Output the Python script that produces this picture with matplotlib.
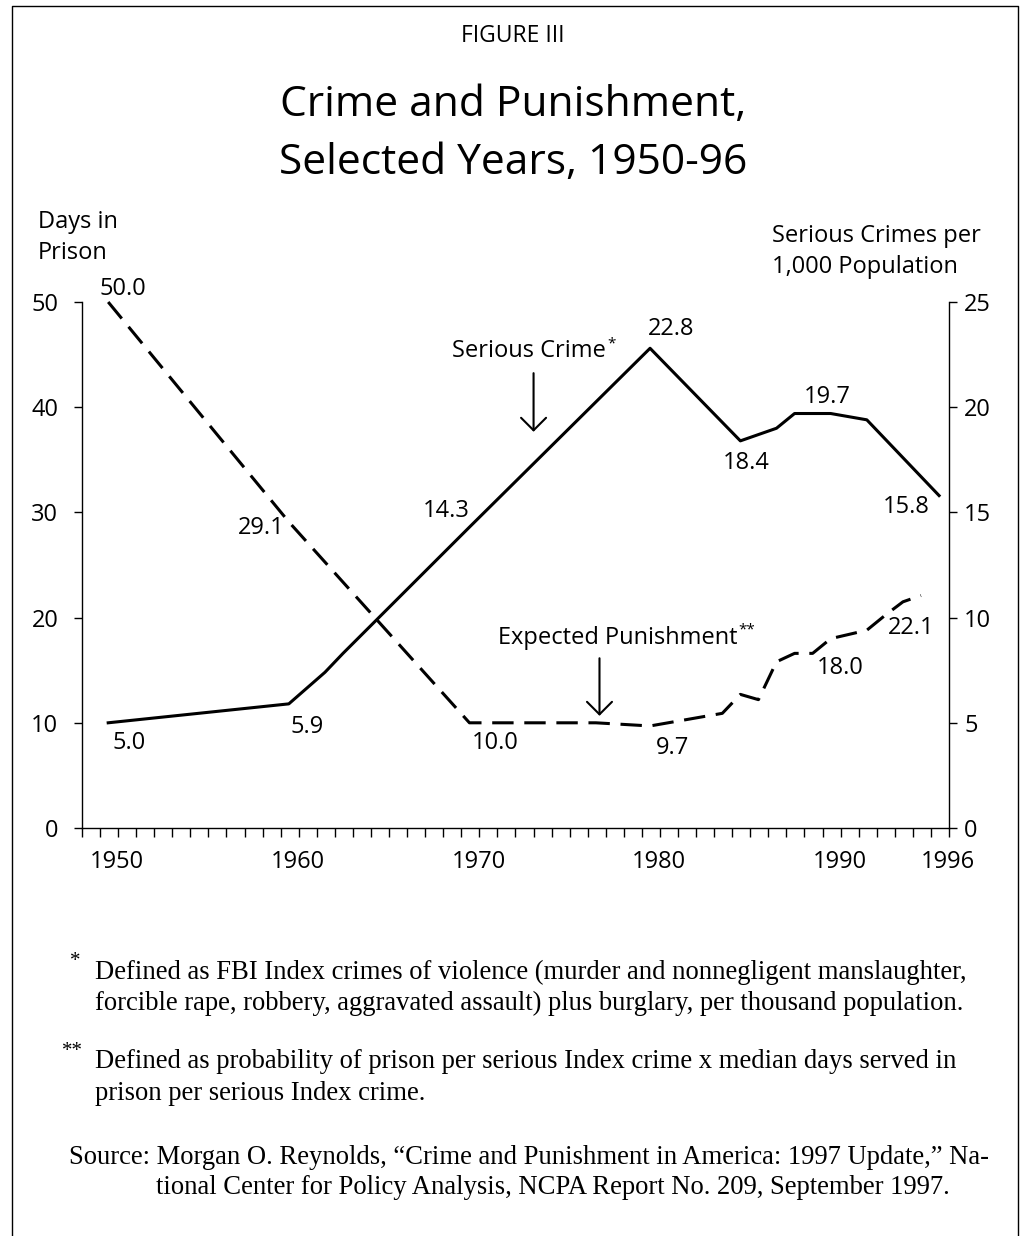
import matplotlib
matplotlib.use("Agg")
import matplotlib.pyplot as plt
from matplotlib.lines import Line2D
import matplotlib.transforms as mtrans
import numpy as np

plt.rcParams["font.family"] = ["Open Sans", "DejaVu Sans"]

# Serious crimes per 1,000 population (right axis)
crime_years = [1950, 1960, 1962, 1963, 1970, 1980, 1985, 1987, 1988, 1990, 1992, 1996]
crime_rate = [5.0, 5.9, 7.4, 8.3, 14.3, 22.8, 18.4, 19.0, 19.7, 19.7, 19.4, 15.8]

# Expected punishment, median days in prison (left axis)
pun_years = [1950, 1960, 1970, 1977, 1978, 1980, 1981, 1982, 1983, 1984, 1985,
             1986, 1987, 1988, 1989, 1990, 1991, 1992, 1993, 1994, 1995]
pun_days = [50.0, 29.1, 10.0, 10.0, 9.9, 9.7, 10.0, 10.3, 10.6, 10.9, 12.7,
            12.2, 15.8, 16.6, 16.6, 18.0, 18.4, 18.8, 20.2, 21.5, 22.1]

# which points carry a value label
crime_labeled = [1950, 1960, 1970, 1980, 1985, 1990, 1996]
pun_labeled = [1950, 1960, 1970, 1980, 1990, 1995]

xtick_years = [1950, 1960, 1970, 1980, 1990, 1996]
left_ticks = [0, 10, 20, 30, 40, 50]
right_ticks = [0, 5, 10, 15, 20, 25]

# label offsets (pixels) from the point
crime_off = [(21, -20), (18, -23), (-23, 16), (21, 19), (6, -22), (-3, 17), (-33, -11)]
pun_off = [(15, 13), (-28, -6), (26, -20), (22, -22), (10, -29), (-10, -32)]

W, H = 1026, 1236
fig = plt.figure(figsize=(W / 100, H / 100), dpi=100)
ax = fig.add_axes([82 / W, 1 - 828 / H, (949 - 82) / W, (828 - 302) / H])
ax2 = ax.twinx()

fs = 17
x0, x1 = 1948.55, 1996.55
ax.set_xlim(x0, x1)
ax.set_ylim(0, 50)
ax2.set_ylim(0, 25)

for a in (ax, ax2):
    a.spines["top"].set_visible(False)
    for s in a.spines.values():
        s.set_linewidth(1.0)
ax.spines["right"].set_visible(False)
ax2.spines["left"].set_visible(False)
ax2.spines["bottom"].set_visible(False)

ax.set_xticks(xtick_years)
ax.set_xticklabels([str(y) for y in xtick_years])
ax.set_xticks(np.arange(x0, x1 + 0.01, 1.0), minor=True)
ax.tick_params(axis="x", which="major", length=0, pad=16, labelsize=fs)
ax.tick_params(axis="x", which="minor", length=6.5, width=1.0, direction="out")
# year labels sit a little right of the tick grid in the original
shift = mtrans.ScaledTranslation(9 / 100, 0, fig.dpi_scale_trans)
for lab in ax.get_xticklabels():
    lab.set_transform(lab.get_transform() + shift)
ax.set_yticks(left_ticks)
ax.tick_params(axis="y", length=6, width=1.0, pad=11, labelsize=fs)
ax2.set_yticks(right_ticks)
ax2.tick_params(axis="y", length=6, width=1.0, pad=5, labelsize=fs)

# lines
ax.plot(pun_years, pun_days, color="black", lw=2.2, dashes=(7, 3.5), clip_on=False)
ax2.plot(crime_years, crime_rate, color="black", lw=2.2, clip_on=False)

# value labels
for yr, (dx, dy) in zip(crime_labeled, crime_off):
    v = crime_rate[crime_years.index(yr)]
    ax2.annotate(f"{v:.1f}", xy=(yr, v), xytext=(dx, dy), textcoords="offset pixels",
                 ha="center", va="center", fontsize=fs, annotation_clip=False)
for yr, (dx, dy) in zip(pun_labeled, pun_off):
    v = pun_days[pun_years.index(yr)]
    ax.annotate(f"{v:.1f}", xy=(yr, v), xytext=(dx, dy), textcoords="offset pixels",
                ha="center", va="center", fontsize=fs, annotation_clip=False)

# series names with arrows
t1 = ax.text(1973.3, 45.3, "Serious Crime", ha="center", va="center", fontsize=fs)
ax.annotate("*", xy=(1, 1), xycoords=t1, xytext=(1, 2), textcoords="offset points",
            ha="left", va="top", fontsize=11)
ax.annotate("", xy=(1973.55, 37.4), xytext=(1973.55, 43.5),
            arrowprops=dict(arrowstyle="->,head_length=0.9,head_width=0.9", lw=1.5, color="black"))
t2 = ax.text(1978.2, 18.1, "Expected Punishment", ha="center", va="center", fontsize=fs)
ax.annotate("**", xy=(1, 1), xycoords=t2, xytext=(1, 2), textcoords="offset points",
            ha="left", va="top", fontsize=11)
ax.annotate("", xy=(1977.2, 10.4), xytext=(1977.2, 16.4),
            arrowprops=dict(arrowstyle="->,head_length=0.9,head_width=0.9", lw=1.5, color="black"))

# titles and axis names
fig.text(0.5, 1 - 36 / H, "FIGURE III", ha="center", va="center", fontsize=16.5)
fig.text(0.5, 1 - 134 / H, "Crime and Punishment,\nSelected Years, 1950-96",
         ha="center", va="center", fontsize=30.6, linespacing=1.48)
fig.text(38 / W, 1 - 210 / H, "Days in\nPrison", ha="left", va="top", fontsize=fs, linespacing=1.4)
fig.text(772 / W, 1 - 224 / H, "Serious Crimes per\n1,000 Population", ha="left", va="top",
         fontsize=fs, linespacing=1.4)

# footnotes
serif = ["Liberation Serif", "DejaVu Serif"]
nfs = 19.2
note_lines = [
    (95, 972, "Defined as FBI Index crimes of violence (murder and nonnegligent manslaughter,"),
    (95, 1003, "forcible rape, robbery, aggravated assault) plus burglary, per thousand population."),
    (95, 1062, "Defined as probability of prison per serious Index crime x median days served in"),
    (95, 1093, "prison per serious Index crime."),
    (69, 1158, "Source: Morgan O. Reynolds, \u201cCrime and Punishment in America: 1997 Update,\u201d Na-"),
    (156, 1188, "tional Center for Policy Analysis, NCPA Report No. 209, September 1997."),
]
for nx, ny, s in note_lines:
    fig.text(nx / W, 1 - ny / H, s, ha="left", va="center", fontsize=nfs, family=serif)
fig.text(70 / W, 1 - 962 / H, "*", ha="left", va="center", fontsize=15, family=serif)
fig.text(62 / W, 1 - 1052 / H, "**", ha="left", va="center", fontsize=15, family=serif)

# frame around the figure (open at the bottom)
fx0, fx1, fy1 = 12 / W, 1018 / W, 1 - 6 / H
fig.add_artist(Line2D([fx0, fx0, fx1, fx1], [0, fy1, fy1, 0], transform=fig.transFigure,
                      color="black", lw=1.0))

fig.savefig("out.png", dpi=100)
